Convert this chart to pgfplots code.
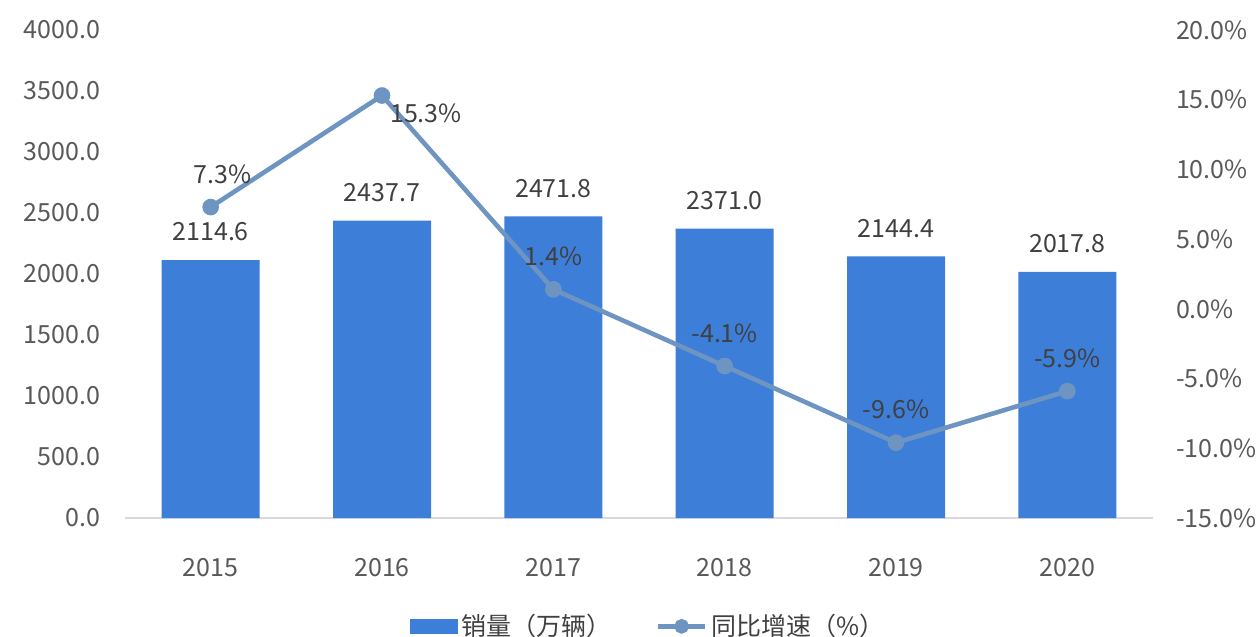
\documentclass[border=0pt]{standalone}
\usepackage{fontspec}
\setmainfont{Noto Sans CJK SC}
\usepackage{pgfplots}
\pgfplotsset{compat=1.18}
\definecolor{barblue}{HTML}{3D7ED9}
\definecolor{lineblue}{HTML}{6E95C2}
\definecolor{txt}{HTML}{595959}
\definecolor{lbl}{HTML}{404040}
\pgfplotstableread{
x y dx dy
0 7.3 6 16.5
1 15.3 22 -9
2 1.4 0 16.5
3 -4.1 0 16.5
4 -9.6 0 16.5
5 -5.9 0 16.5
}\growth
\begin{document}
\begin{tikzpicture}[font=\fontsize{12.5}{14}\selectfont]
\pgfplotsset{
  common/.style={scale only axis, width=514pt, height=244pt,
    xmin=-0.5, xmax=5.5,
    axis line style={draw=none}, major tick length=0pt,
    tick label style={text=txt, font=\fontsize{12.5}{14}\selectfont},
    /pgf/number format/assume math mode=true, clip=false}
}
\begin{axis}[common, name=ax, ymin=0, ymax=4000, ytick={0,500,...,4000},
  yticklabel={\pgfmathprintnumber[fixed,fixed zerofill,precision=1,1000 sep={}]{\tick}},
  yticklabel style={xshift=-9pt},
  xtick={0,1,2,3,4,5}, xticklabels={2015,2016,2017,2018,2019,2020},
  xticklabel style={anchor=center, yshift=-25pt},
  ybar, bar width=49pt]
  \draw[draw=black!15, line width=0.8pt] (rel axis cs:0,0) -- (rel axis cs:1,0);
  \addplot[fill=barblue, draw=none,
    point meta=y,
    nodes near coords={\pgfmathprintnumber[fixed,fixed zerofill,precision=1,1000 sep={}]{\pgfplotspointmeta}},
    nodes near coords style={anchor=center, yshift=14pt, text=lbl, font=\fontsize{12.5}{14}\selectfont}]
    coordinates {(0,2114.6) (1,2437.7) (2,2471.8) (3,2371.0) (4,2144.4) (5,2017.8)};
\end{axis}
\begin{axis}[common, ymin=-15, ymax=20, ytick={-15,-10,...,20},
  yticklabel pos=right,
  yticklabel={\pgfmathprintnumber[fixed,fixed zerofill,precision=1]{\tick}\%},
  yticklabel style={xshift=8pt},
  xtick=\empty,
  legend columns=2,
  legend style={at={(0.51,-0.222)}, anchor=center, draw=none, fill=none,
    text=lbl, font=\fontsize{12.5}{14}\selectfont,
    /tikz/every even column/.append style={column sep=20pt}},
  ]
  \addlegendimage{legend image code/.code={\fill[barblue] (0pt,-3.5pt) rectangle (23.5pt,3.5pt);}}
  \addlegendentry{销量（万辆）}
  \addplot[lineblue, line width=2.3pt, mark=*, mark size=3pt,
    mark options={fill=lineblue, draw=lineblue},
    point meta=y,
    visualization depends on={\thisrow{dx} \as \dx},
    visualization depends on={\thisrow{dy} \as \dy},
    nodes near coords={\pgfmathprintnumber[fixed,fixed zerofill,precision=1]{\pgfplotspointmeta}\%},
    nodes near coords style={anchor=center, xshift=\dx pt, yshift=\dy pt, text=lbl, font=\fontsize{12.5}{14}\selectfont},
    legend image code/.code={\draw[lineblue, line width=2.2pt] (0pt,0pt) -- (23.5pt,0pt); \fill[lineblue] (11.75pt,0pt) circle (2.5pt);}]
    table[x=x, y=y] {\growth};
  \addlegendentry{同比增速（\%）}
\end{axis}
\pgfresetboundingbox
\path[use as bounding box] ([shift={(-62.5pt,-59pt)}]ax.south west) rectangle ([shift={(53pt,15pt)}]ax.north east);
\end{tikzpicture}
\end{document}
